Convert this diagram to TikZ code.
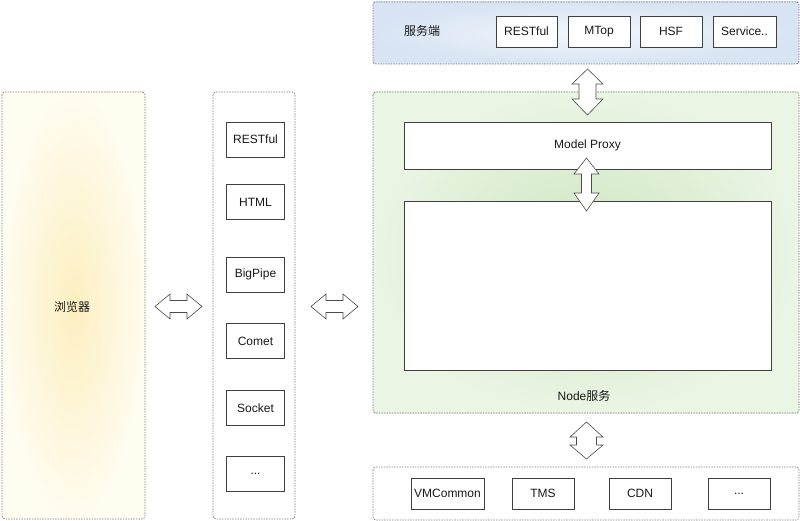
\documentclass[tikz,border=0pt]{standalone}
\usepackage{fontspec}
\setmainfont{Liberation Sans}
\newfontfamily\cjk{Noto Sans CJK SC}
\definecolor{yin}{HTML}{FCEFC0}
\definecolor{yout}{HTML}{FFFCF0}
\definecolor{gin}{HTML}{CDE6BF}
\definecolor{gout}{HTML}{EAF5E4}
\definecolor{bin}{HTML}{F2F6FC}
\definecolor{bout}{HTML}{D8E4F3}
\definecolor{edgegray}{HTML}{7A7A7A}
\newcommand\vdarrow[7]{% cx, ytop, ybot, halfwidth, halfshaft, headtop, headbot
  \draw[arrowshape] (#1,#2) -- ({#1+#4},{#2+#6}) -- ({#1+#5},{#2+#6}) -- ({#1+#5},{#3-#7}) -- ({#1+#4},{#3-#7}) -- (#1,#3) -- ({#1-#4},{#3-#7}) -- ({#1-#5},{#3-#7}) -- ({#1-#5},{#2+#6}) -- ({#1-#4},{#2+#6}) -- cycle;}
\newcommand\hdarrow[7]{% cy, xleft, xright, halfheight, halfshaft, headleft, headright
  \draw[arrowshape] (#2,#1) -- ({#2+#6},{#1-#4}) -- ({#2+#6},{#1-#5}) -- ({#3-#7},{#1-#5}) -- ({#3-#7},{#1-#4}) -- (#3,#1) -- ({#3-#7},{#1+#4}) -- ({#3-#7},{#1+#5}) -- ({#2+#6},{#1+#5}) -- ({#2+#6},{#1+#4}) -- cycle;}
\begin{document}
\begin{tikzpicture}[x=1pt,y=-1pt,
  panel/.style={draw=edgegray, line width=0.7pt, dash pattern=on 1.4pt off 1.2pt, rounded corners=3pt},
  box/.style={draw=black!75, line width=0.9pt, fill=white, inner sep=0pt, text=black!90, font=\fontsize{12}{14}\selectfont},
  arrowshape/.style={draw=black!70, line width=0.6pt, fill=white, line join=miter},
  lbl/.style={font=\fontsize{12}{14}\selectfont, inner sep=0pt, text=black!90}]
\useasboundingbox (0,0) rectangle (800,521);
% panels
\path[shading=radial, inner color=yin, outer color=yout] (2,92) rectangle (145,519);
\draw[panel] (2,92) rectangle (145,519);
\node[lbl,font=\cjk\fontsize{12}{14}\selectfont] (browser) at (72,307) {浏览器};

\draw[panel] (213,92) rectangle (295,519);

\path[shading=radial, inner color=bin, outer color=bout] (373,2) rectangle (799,64);
\draw[panel] (373,2) rectangle (799,64);
\node[lbl,font=\cjk\fontsize{12}{14}\selectfont] (srv) at (422,31) {服务端};

\path[shading=radial, inner color=gin, outer color=gout] (373,92) rectangle (799,413);
\draw[panel] (373,92) rectangle (799,413);

\draw[panel] (373,467) rectangle (799,520);

% middle boxes
\node[box, minimum width=58, minimum height=35] (m1) at (255.5,139.5) {RESTful};
\node[box, minimum width=58, minimum height=35] (m2) at (255.5,202) {HTML};
\node[box, minimum width=58, minimum height=35] (m3) at (255.5,274.5) {BigPipe};
\node[box, minimum width=58, minimum height=35] (m4) at (255.5,341) {Comet};
\node[box, minimum width=58, minimum height=35] (m5) at (255.5,408) {Socket};
\node[box, minimum width=58, minimum height=35] (m6) at (255.5,474) {...};

% top boxes
\node[box, minimum width=61, minimum height=31] (t1) at (526.5,31.5) {RESTful};
\node[box, minimum width=62, minimum height=31] (t2) at (599,31.5) {MTop};
\node[box, minimum width=62, minimum height=31] (t3) at (671,31.5) {HSF};
\node[box, minimum width=63, minimum height=31] (t4) at (744.5,31.5) {Service..};

% node service
\node[box, minimum width=367, minimum height=47] (mp) at (587.5,145.5) {Model Proxy};
\node[box, minimum width=367, minimum height=169] (core) at (587.5,285.5) {};
\node[lbl] (nodesvc) at (584,396) {Node{\cjk 服务}};

% bottom boxes
\node[box, minimum width=73, minimum height=31] (b1) at (447.5,493.5) {VMCommon};
\node[box, minimum width=62, minimum height=31] (b2) at (543,493.5) {TMS};
\node[box, minimum width=62, minimum height=31] (b3) at (640,493.5) {CDN};
\node[box, minimum width=62, minimum height=31] (b4) at (739,493.5) {...};

% arrows
\hdarrow{306.5}{155}{202}{12.5}{6}{15}{15}
\hdarrow{306.5}{311}{358}{12.5}{6}{15}{15}
\vdarrow{587.5}{69}{115}{15.5}{8.5}{15}{16}
\vdarrow{586.5}{158}{211}{12.5}{5}{16}{18}
\vdarrow{586.5}{422}{459}{16.5}{10}{15}{14}
\end{tikzpicture}
\end{document}
